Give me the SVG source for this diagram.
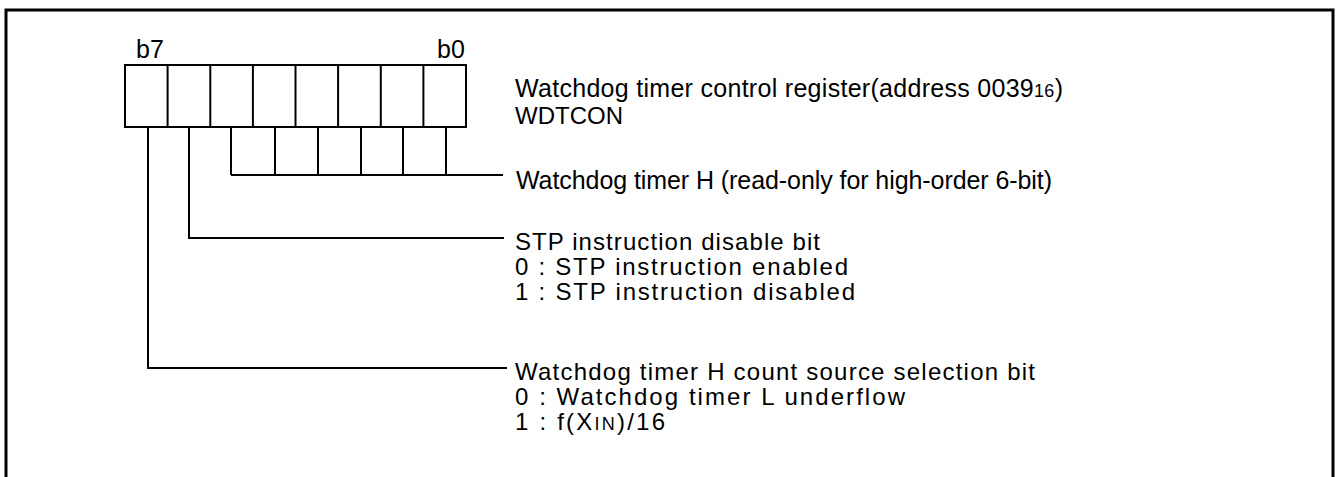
<svg xmlns="http://www.w3.org/2000/svg" width="1338" height="477" viewBox="0 0 1338 477">
<style>
.ln{fill:none;stroke:#000;stroke-width:2}
.bd{fill:none;stroke:#000;stroke-width:3}
text{font-family:"Liberation Sans",Arial,sans-serif;font-size:24px;fill:#000}
.lg{font-size:25px}
.sm{font-size:18px}
</style>
<rect width="1338" height="477" fill="#fff"/>
<path class="bd" d="M6,477 V10 H1333 V477"/>
<g id="register">
<rect class="ln" x="125" y="65" width="341" height="62"/>
<path class="ln" d="M167.6,65V127M210.3,65V127M252.9,65V127M295.5,65V127M338.1,65V127M380.8,65V127M423.4,65V127"/>
<text class="lg" x="136" y="58">b7</text>
<text class="lg" x="437" y="58">b0</text>
</g>
<g id="title">
<text class="lg" x="515" y="97" textLength="548" lengthAdjust="spacing">Watchdog timer control register(address 0039<tspan class="sm">16</tspan>)</text>
<text x="515" y="124">WDTCON</text>
</g>
<g id="wdth">
<path class="ln" d="M231,127V175M275,127V175M318,127V175M361,127V175M403,127V175M446,127V175"/>
<text class="lg" x="516" y="189" textLength="536" lengthAdjust="spacing">Watchdog timer H (read-only for high-order 6-bit)</text>
</g>
<g id="stp">
<text x="515" y="250" textLength="305" lengthAdjust="spacing">STP instruction disable bit</text>
<text x="515" y="275" textLength="333" lengthAdjust="spacing">0 : STP instruction enabled</text>
<text x="515" y="300" textLength="340" lengthAdjust="spacing">1 : STP instruction disabled</text>
</g>
<g id="cs">
<text x="515" y="380" textLength="520" lengthAdjust="spacing">Watchdog timer H count source selection bit</text>
<text x="515" y="405" textLength="390" lengthAdjust="spacing">0 : Watchdog timer L underflow</text>
<text x="515" y="430" textLength="150" lengthAdjust="spacing">1 : f(X<tspan class="sm">IN</tspan>)/16</text>
</g>
<g id="connectors">
<path class="ln" d="M231,175H503"/>
<path class="ln" d="M189,127V238H504"/>
<path class="ln" d="M148,127V368H507"/>
</g>
</svg>
